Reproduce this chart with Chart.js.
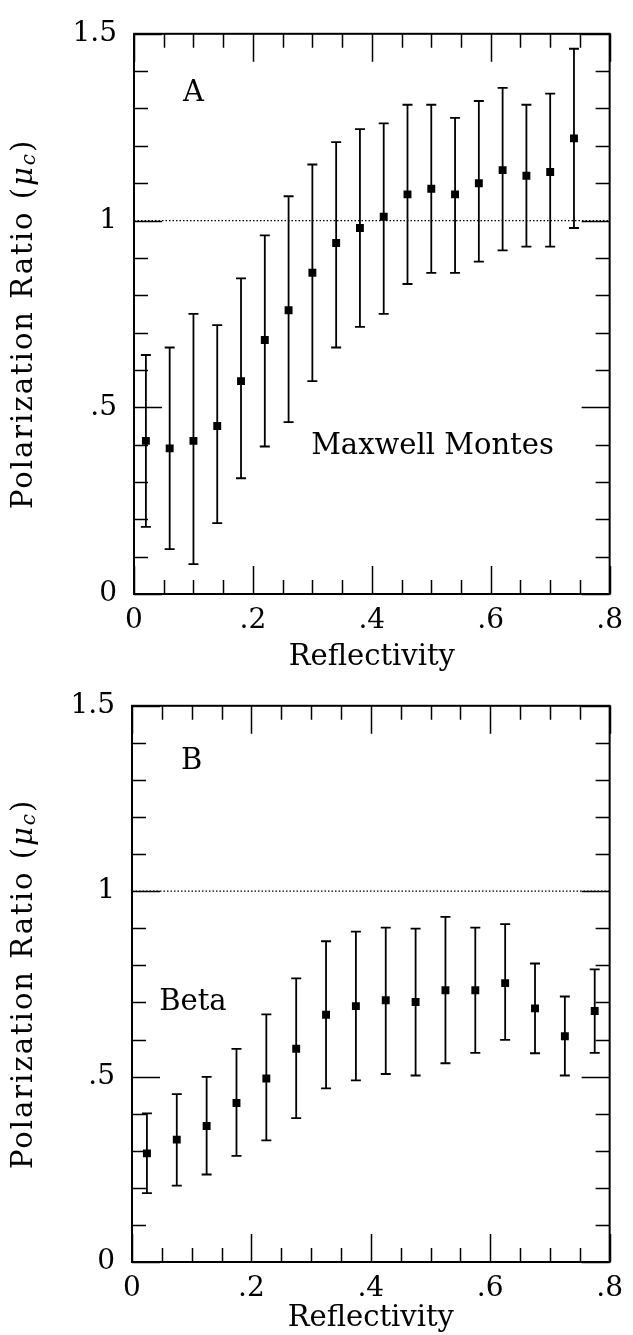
<!DOCTYPE html>
<html><head><meta charset="utf-8">
<script src="https://cdn.jsdelivr.net/npm/chart.js@4.4.0/dist/chart.umd.min.js"></script>
<style>
html,body{margin:0;padding:0;background:#fff;}
#wrap{position:relative;width:633px;height:1335px;overflow:hidden;}
canvas{position:absolute;left:0;}
</style></head><body>
<div id="wrap">
<canvas id="cA" width="633" height="672" style="top:0px"></canvas>
<canvas id="cB" width="633" height="663" style="top:672px"></canvas>
</div>
<script>
// ---- tick labels ----
const xTickValues = [0, 0.2, 0.4, 0.6, 0.8];
const xTickLabels = ['0', '.2', '.4', '.6', '.8'];
const yTickValues = [0, 0.5, 1, 1.5];
const yTickLabels = ['0', '.5', '1', '1.5'];
const refLineY = 1;
const xTitle = 'Reflectivity';
const yTitleMain = 'Polarization Ratio (';
const yTitleSym = 'μ';
const yTitleSub = 'c';
const yTitleEnd = ')';

// ---- Panel A: Maxwell Montes ----
const maxwellX  = [0.02, 0.06, 0.10, 0.14, 0.18, 0.22, 0.26, 0.30, 0.34, 0.38, 0.42, 0.46, 0.50, 0.54, 0.58, 0.62, 0.66, 0.70, 0.74];
const maxwellY  = [0.41, 0.39, 0.41, 0.45, 0.57, 0.68, 0.76, 0.86, 0.94, 0.98, 1.01, 1.07, 1.085, 1.07, 1.10, 1.135, 1.12, 1.13, 1.22];
const maxwellHi = [0.64, 0.66, 0.75, 0.72, 0.845, 0.96, 1.065, 1.15, 1.21, 1.245, 1.26, 1.31, 1.31, 1.275, 1.32, 1.355, 1.31, 1.34, 1.46];
const maxwellLo = [0.18, 0.12, 0.08, 0.19, 0.31, 0.395, 0.46, 0.57, 0.66, 0.715, 0.75, 0.83, 0.86, 0.86, 0.89, 0.92, 0.93, 0.93, 0.98];

// ---- Panel B: Beta ----
const betaX  = [0.025, 0.075, 0.125, 0.175, 0.225, 0.275, 0.325, 0.375, 0.425, 0.475, 0.525, 0.575, 0.625, 0.675, 0.725, 0.775];
const betaY  = [0.293, 0.330, 0.367, 0.429, 0.495, 0.575, 0.667, 0.690, 0.706, 0.701, 0.733, 0.733, 0.752, 0.684, 0.609, 0.677];
const betaHi = [0.401, 0.453, 0.499, 0.575, 0.668, 0.765, 0.865, 0.891, 0.902, 0.899, 0.931, 0.902, 0.911, 0.805, 0.716, 0.789];
const betaLo = [0.186, 0.206, 0.236, 0.286, 0.328, 0.388, 0.468, 0.490, 0.507, 0.503, 0.536, 0.564, 0.599, 0.563, 0.503, 0.564];

const FONT = "'DejaVu Serif', 'Liberation Serif', serif";

function isMult(v, step){ const r = v/step; return Math.abs(r - Math.round(r)) < 1e-6; }
function labelFor(v, vals, labs){ for (let i=0;i<vals.length;i++){ if (Math.abs(v-vals[i])<1e-6) return labs[i]; } return ''; }

const errorBars = {
  id: 'errorBars',
  beforeDatasetsDraw(chart){
    const {ctx, scales:{x, y}} = chart;
    ctx.save();
    ctx.strokeStyle = '#000';
    ctx.lineWidth = 1.8;
    chart.data.datasets.forEach(ds => {
      if (!ds.errLo) return;
      ds.data.forEach((p, i) => {
        const px = x.getPixelForValue(p.x);
        const yl = y.getPixelForValue(ds.errLo[i]);
        const yh = y.getPixelForValue(ds.errHi[i]);
        ctx.beginPath();
        ctx.moveTo(px, yl); ctx.lineTo(px, yh);
        ctx.moveTo(px-5, yl); ctx.lineTo(px+5, yl);
        ctx.moveTo(px-5, yh); ctx.lineTo(px+5, yh);
        ctx.stroke();
      });
    });
    ctx.restore();
  }
};

const frameTicks = {
  id: 'frameTicks',
  afterDraw(chart){
    const {ctx, chartArea:a, scales:{x, y}} = chart;
    ctx.save();
    ctx.strokeStyle = '#000';
    ctx.lineWidth = 1.5;
    ctx.beginPath();
    x.ticks.forEach(t => {
      const px = Math.round(x.getPixelForValue(t.value)) + 0.5;
      const L = isMult(t.value, 0.2) ? 28 : 14;
      ctx.moveTo(px, a.bottom); ctx.lineTo(px, a.bottom - L);
      ctx.moveTo(px, a.top); ctx.lineTo(px, a.top + L);
    });
    y.ticks.forEach(t => {
      const py = Math.round(y.getPixelForValue(t.value)) + 0.5;
      const L = isMult(t.value, 0.5) ? 28 : 14;
      ctx.moveTo(a.left, py); ctx.lineTo(a.left + L, py);
      ctx.moveTo(a.right, py); ctx.lineTo(a.right - L, py);
    });
    ctx.stroke();
    ctx.lineWidth = 2;
    ctx.strokeRect(a.left, a.top, a.right - a.left, a.bottom - a.top);
    ctx.restore();
  }
};

const textLabels = {
  id: 'textLabels',
  afterDraw(chart, args, opts){
    const {ctx, scales:{x, y}, chartArea:a} = chart;
    ctx.save();
    ctx.fillStyle = '#000';
    ctx.textBaseline = 'middle';
    ctx.textAlign = 'center';
    ctx.font = '29px ' + FONT;
    (opts.items || []).forEach(it => {
      ctx.fillText(it.text, x.getPixelForValue(it.x), y.getPixelForValue(it.y));
    });
    // y axis title
    const cy = (a.top + a.bottom)/2 + (opts.titleShift || 0);
    ctx.translate(24, cy);
    ctx.rotate(-Math.PI/2);
    ctx.textAlign = 'left';
    ctx.textBaseline = 'middle';
    try { ctx.letterSpacing = '2px'; } catch(e) {}
    const fMain = '29px ' + FONT, fSym = 'italic 29px ' + FONT, fSub = 'italic 20px ' + FONT;
    ctx.font = fMain; const w1 = ctx.measureText(yTitleMain).width; const w4 = ctx.measureText(yTitleEnd).width;
    ctx.font = fSym; const w2 = ctx.measureText(yTitleSym).width;
    ctx.font = fSub; const w3 = ctx.measureText(yTitleSub).width;
    let xx = -(w1 + w2 + w3 + w4)/2;
    ctx.font = fMain; ctx.fillText(yTitleMain, xx, 0); xx += w1;
    ctx.font = fSym; ctx.fillText(yTitleSym, xx, 0); xx += w2;
    ctx.font = fSub; ctx.fillText(yTitleSub, xx, 6); xx += w3;
    ctx.font = fMain; ctx.fillText(yTitleEnd, xx, 0);
    ctx.restore();
  }
};

function makeChart(id, xs, ys, lo, hi, cfg){
  const pts = xs.map((v, i) => ({x: v, y: ys[i]}));
  return new Chart(document.getElementById(id), {
    type: 'scatter',
    data: {
      datasets: [
        {
          type: 'line',
          data: [{x: 0, y: refLineY}, {x: 0.8, y: refLineY}],
          borderColor: '#000', borderWidth: 1.3, borderDash: [1.5, 2],
          pointRadius: 0, fill: false
        },
        {
          data: pts, errLo: lo, errHi: hi,
          pointStyle: 'rect', pointRadius: 5.6, pointHoverRadius: 5.6,
          backgroundColor: '#000', borderColor: '#000', borderWidth: 0
        }
      ]
    },
    options: {
      responsive: false, animation: false, devicePixelRatio: 1,
      layout: { autoPadding: false, padding: { left: 0, top: cfg.top, right: cfg.right, bottom: 0 } },
      plugins: {
        legend: { display: false }, tooltip: { enabled: false },
        textLabels: { items: cfg.items, titleShift: cfg.titleShift }
      },
      scales: {
        x: {
          type: 'linear', min: 0, max: 0.8,
          afterFit(s){ s.height = cfg.xHeight; },
          grid: { display: false, drawTicks: false }, border: { display: false },
          ticks: {
            stepSize: 0.05, autoSkip: false, maxRotation: 0, padding: 10,
            color: '#000', font: { family: FONT, size: 28 },
            callback: v => labelFor(v, xTickValues, xTickLabels)
          },
          title: { display: true, text: xTitle, color: '#000',
                   font: { family: FONT, size: 29, lineHeight: 1 }, padding: { top: 0, bottom: cfg.titlePad } }
        },
        y: {
          type: 'linear', min: 0, max: 1.5,
          afterFit(s){ s.width = cfg.yWidth; },
          grid: { display: false, drawTicks: false }, border: { display: false },
          ticks: {
            stepSize: 0.1, autoSkip: false, padding: 17,
            color: '#000', font: { family: FONT, size: 28 },
            callback: v => labelFor(v, yTickValues, yTickLabels)
          }
        }
      }
    },
    plugins: [errorBars, frameTicks, textLabels]
  });
}

makeChart('cA', maxwellX, maxwellY, maxwellLo, maxwellHi, {
  top: 18, right: 11, xHeight: 78, yWidth: 134, titlePad: 0, titleShift: 10,
  items: [ {x: 0.10, y: 1.34, text: 'A'}, {x: 0.502, y: 0.396, text: 'Maxwell Montes'} ]
});
makeChart('cB', betaX, betaY, betaLo, betaHi, {
  top: 15, right: 12, xHeight: 73, yWidth: 132, titlePad: 2.5, titleShift: 0,
  items: [ {x: 0.10, y: 1.35, text: 'B'}, {x: 0.102, y: 0.70, text: 'Beta'} ]
});
</script>
</body></html>
